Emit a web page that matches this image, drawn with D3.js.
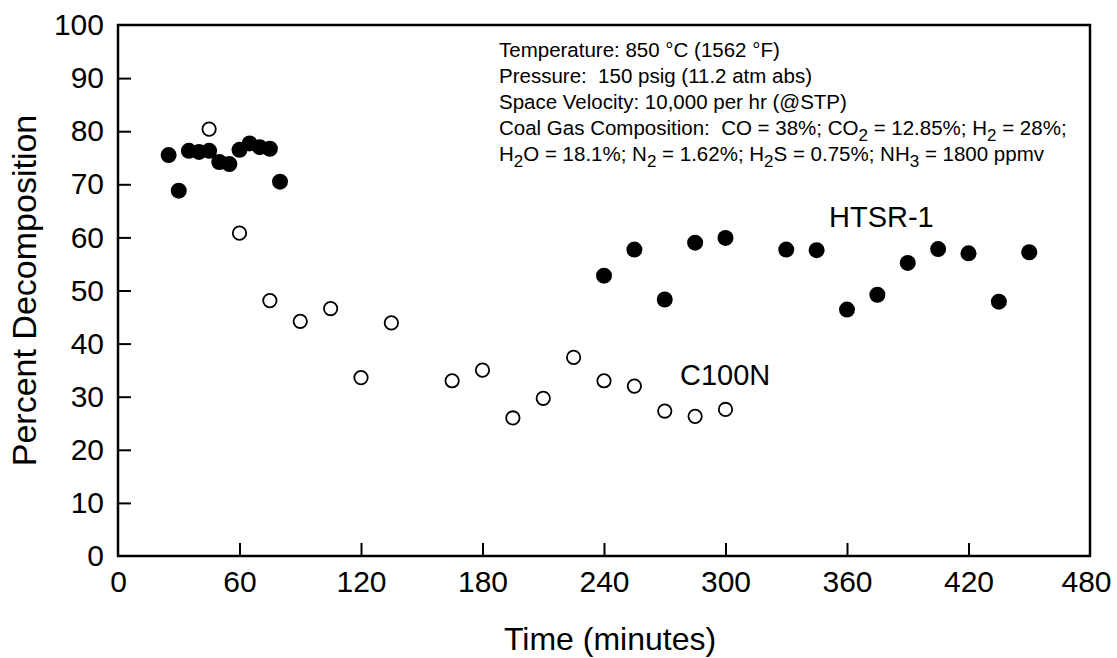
<html>
<head>
<title>Percent Decomposition vs Time</title>
<script type="text/javascript" src="https://cdnjs.cloudflare.com/ajax/libs/d3/7.8.5/d3.min.js"></script>
<style>
  body { margin: 0; background: #fff; }
  text { font-family: "Liberation Sans", Arial, sans-serif; fill: #000; }
</style>
</head>
<body>
<script type="text/javascript">
// chart values
var xTicks = [0, 60, 120, 180, 240, 300, 360, 420, 480];
var yTicks = [0, 10, 20, 30, 40, 50, 60, 70, 80, 90, 100];

var htsrTime  = [25, 30, 35, 40, 45, 50, 55, 60, 65, 70, 75, 80,
                 240, 255, 270, 285, 300, 330, 345, 360, 375, 390, 405, 420, 435, 450];
var htsrValue = [75.5, 68.8, 76.3, 76.1, 76.3, 74.2, 73.8, 76.5, 77.7, 77.0, 76.7, 70.5,
                 52.8, 57.7, 48.3, 59.0, 59.9, 57.7, 57.6, 46.4, 49.2, 55.2, 57.8, 57.0, 47.9, 57.2];

var c100nTime  = [45, 60, 75, 90, 105, 120, 135, 165, 180, 195, 210, 225, 240, 255, 270, 285, 300];
var c100nValue = [80.4, 60.8, 48.1, 44.2, 46.6, 33.6, 43.9, 33.0, 35.0, 26.0, 29.7, 37.4, 33.0, 32.0, 27.3, 26.3, 27.6];

// conditions box text, [text, isSubscript]
var notes = [
  [["Temperature: 850 \u00B0C (1562 \u00B0F)", 0]],
  [["Pressure:  150 psig (11.2 atm abs)", 0]],
  [["Space Velocity: 10,000 per hr (@STP)", 0]],
  [["Coal Gas Composition:  CO = 38%; CO", 0], ["2", 1], [" = 12.85%; H", 0], ["2", 1], [" = 28%;", 0]],
  [["H", 0], ["2", 1], ["O = 18.1%; N", 0], ["2", 1], [" = 1.62%; H", 0], ["2", 1], ["S = 0.75%; NH", 0], ["3", 1], [" = 1800 ppmv", 0]]
];

var w = 1117, h = 658;
var pLeft = 118, pRight = 1090, pTop = 25, pBottom = 556;

var svg = d3.select("body")
            .append("svg")
            .attr("width", w)
            .attr("height", h);

var x = d3.scaleLinear().domain([0, 480]).range([pLeft, pRight]);
var y = d3.scaleLinear().domain([0, 100]).range([pBottom, pTop]);

// frame
svg.append("rect")
   .attr("x", pLeft).attr("y", pTop)
   .attr("width", pRight - pLeft).attr("height", pBottom - pTop)
   .attr("fill", "none").attr("stroke", "#000").attr("stroke-width", 2.5);

var xAxis = svg.append("g")
   .attr("transform", "translate(0," + pBottom + ")")
   .call(d3.axisBottom(x).tickValues(xTicks).tickSizeInner(-13).tickSizeOuter(0).tickPadding(15));

var yAxis = svg.append("g")
   .attr("transform", "translate(" + pLeft + ",0)")
   .call(d3.axisLeft(y).tickValues(yTicks).tickSizeInner(-13).tickSizeOuter(0).tickPadding(14));

[xAxis, yAxis].forEach(function(g) {
  g.select(".domain").remove();
  g.selectAll(".tick line").attr("stroke", "#000").attr("stroke-width", 2);
  g.selectAll(".tick text")
   .attr("font-family", "Liberation Sans, Arial, sans-serif")
   .attr("font-size", 30)
   .attr("fill", "#000");
});
// no tick marks on the frame corners
xAxis.selectAll(".tick line").filter(function(d) { return d === 0 || d === 480; }).remove();
yAxis.selectAll(".tick line").filter(function(d) { return d === 0 || d === 100; }).remove();
xAxis.selectAll(".tick text").filter(function(d) { return d === 480; }).attr("dx", -4);

// axis titles
svg.append("text")
   .attr("x", 610).attr("y", 650)
   .attr("text-anchor", "middle")
   .attr("font-size", 32)
   .text("Time (minutes)");

svg.append("text")
   .attr("transform", "translate(36," + ((pTop + pBottom) / 2) + ") rotate(-90)")
   .attr("text-anchor", "middle")
   .attr("font-size", 34)
   .text("Percent Decomposition");

// points
var htsr = htsrTime.map(function(t, i) { return {t: t, v: htsrValue[i]}; });
var c100n = c100nTime.map(function(t, i) { return {t: t, v: c100nValue[i]}; });

svg.selectAll("circle.htsr")
   .data(htsr)
   .enter()
   .append("circle")
   .attr("class", "htsr")
   .attr("cx", function(d) { return x(d.t); })
   .attr("cy", function(d) { return y(d.v); })
   .attr("r", 8)
   .attr("fill", "#000");

svg.selectAll("circle.c100n")
   .data(c100n)
   .enter()
   .append("circle")
   .attr("class", "c100n")
   .attr("cx", function(d) { return x(d.t); })
   .attr("cy", function(d) { return y(d.v); })
   .attr("r", 6.7)
   .attr("fill", "#fff")
   .attr("stroke", "#000")
   .attr("stroke-width", 1.8);

// series labels
svg.append("text").attr("x", 829).attr("y", 227).attr("font-size", 29).text("HTSR-1");
svg.append("text").attr("x", 680).attr("y", 385).attr("font-size", 29).text("C100N");

// conditions note
var note = svg.append("text").attr("font-size", 20.5).attr("xml:space", "preserve");
notes.forEach(function(line, i) {
  var row = note.append("tspan").attr("x", 499).attr("y", 57 + i * 26);
  var down = false;
  line.forEach(function(seg) {
    var sp = row.append("tspan").text(seg[0]);
    if (seg[1] && !down) { sp.attr("dy", 6).attr("font-size", 17); down = true; }
    else if (!seg[1] && down) { sp.attr("dy", -6); down = false; }
  });
});
</script>
</body>
</html>
